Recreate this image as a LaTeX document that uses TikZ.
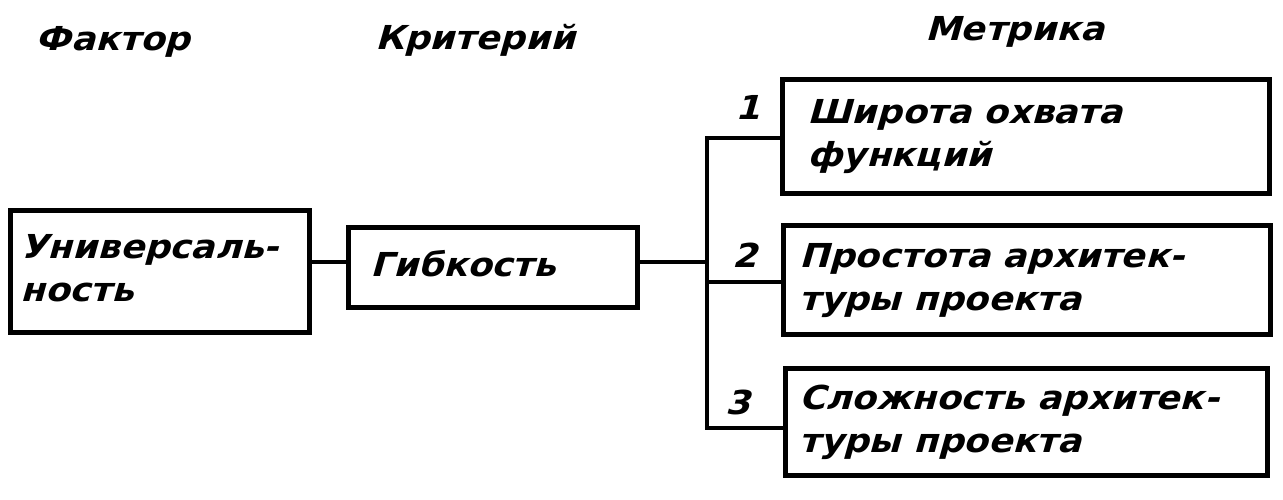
\documentclass[tikz,border=0pt]{standalone}
\usepackage{fontspec}
\newfontfamily\hand{DejaVu Sans}[FakeStretch=1.08, FakeSlant=0.28]
\newcommand\btext[2]{\makebox[#1][l]{\begin{tabular}{@{}l@{}}#2\end{tabular}}}
\begin{document}
\begin{tikzpicture}[x=1pt,y=-1pt,
  every node/.style={font=\hand\bfseries\fontsize{33}{43}\selectfont},
  box/.style={draw, line width=5pt, rectangle, anchor=north west, inner ysep=0pt},
  wire/.style={line width=4pt},
  head/.style={inner sep=0pt},
  num/.style={inner sep=0pt}]
\useasboundingbox (0,0) rectangle (1283,500);
% headers
\node[head] (hf) at (113,42) {Фактор};
\node[head] (hc) at (475,40) {Критерий};
\node[head] (hm) at (1015,32) {Метрика};
% boxes
\node[box, inner xsep=10pt, minimum height=122pt] (fac) at (8,208) {\btext{279pt}{Универсаль-\\ность}};
\node[box, inner xsep=22pt, minimum height=80pt] (crit) at (346,225) {\btext{245pt}{Гибкость}};
\node[box, inner xsep=25pt, minimum height=114pt] (m1) at (780,77) {\btext{437pt}{Широта охвата\\функций}};
\node[box, inner xsep=16pt, minimum height=109pt] (m2) at (781,223) {\btext{455pt}{Простота архитек-\\туры проекта}};
\node[box, inner xsep=14pt, minimum height=107pt] (m3) at (783,366) {\btext{454pt}{Сложность архитек-\\туры проекта}};
% numbers
\node[num] (n1) at (748,107) {1};
\node[num] (n2) at (745,255) {2};
\node[num] (n3) at (738,402) {3};
% connectors
\coordinate (bt) at (707,138);
\coordinate (bb) at (707,428);
\draw[wire] (fac.east |- 0,262) -- (crit.west |- 0,262);
\draw[wire] (crit.east |- 0,262) -- (bt |- 0,262);
\draw[wire] (m1.west |- bt) -- (bt) -- (bb) -- (m3.west |- bb);
\draw[wire] (bt |- 0,282) -- (m2.west |- 0,282);
\end{tikzpicture}
\end{document}
